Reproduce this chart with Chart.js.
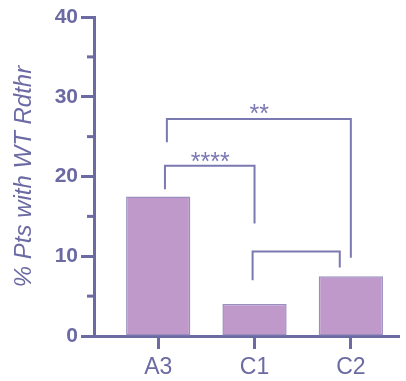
<!DOCTYPE html>
<html>
<head>
<meta charset="utf-8">
<script src="https://cdn.jsdelivr.net/npm/chart.js@4"></script>
<style>
  html, body { margin: 0; padding: 0; background: #fff; }
  #wrap { width: 406px; height: 381px; }
</style>
</head>
<body>
<div id="wrap"><canvas id="myChart" width="406" height="381"></canvas></div>
<script>
// data
const categories = ['A3', 'C1', 'C2'];
const pctValues = [17.5, 4.0, 7.5];
const yTicks = [0, 10, 20, 30, 40];
const yMinorTicks = [5, 15, 25, 35];

// significance brackets: [x1, x2, yTop, yLeftBottom, yRightBottom, label]
const brackets = [
    [0.07, 1.0, 21.35, 18.4, 14.1, '****'],
    [0.09, 2.0, 27.2, 24.3, 9.8, '**'],
    [0.98, 1.885, 10.6, 7.0, 8.6, '']
];
const starPos = [[0.54, 22.6], [1.05, 28.6]];

const axisColor = '#6b6aa3';
const lineColor = '#7b79b2';

function bracketPoints(b) {
    return [
        { x: b[0], y: b[3] },
        { x: b[0], y: b[2] },
        { x: b[1], y: b[2] },
        { x: b[1], y: b[4] }
    ];
}

const bracketSets = brackets.map(b => ({
    type: 'line',
    data: bracketPoints(b),
    borderColor: lineColor,
    borderWidth: 2,
    pointRadius: 0,
    fill: false,
    tension: 0
}));

// minor ticks on y + star labels
const extras = {
    id: 'extras',
    afterDraw(chart) {
        const c = chart.ctx;
        const ys = chart.scales.y;
        const xs = chart.scales.x;
        c.save();
        c.strokeStyle = axisColor;
        c.lineWidth = 3;
        yMinorTicks.forEach(v => {
            const py = ys.getPixelForValue(v);
            c.beginPath();
            c.moveTo(ys.right - 7, py);
            c.lineTo(ys.right, py);
            c.stroke();
        });
        c.fillStyle = lineColor;
        c.font = '25px "Liberation Sans", Arial, sans-serif';
        c.textAlign = 'center';
        c.textBaseline = 'alphabetic';
        brackets.forEach((b, i) => {
            if (!b[5]) return;
            c.fillText(b[5], xs.getPixelForValue(starPos[i][0]), ys.getPixelForValue(starPos[i][1]) + 14);
        });
        c.restore();
    }
};

const ctx = document.getElementById('myChart').getContext('2d');
const myChart = new Chart(ctx, {
    type: 'bar',
    data: {
        datasets: [{
            type: 'bar',
            data: pctValues.map((v, i) => ({ x: i, y: v })),
            backgroundColor: '#bf99c9',
            borderColor: '#9a8ec0',
            borderWidth: 1.5,
            borderSkipped: false,
            categoryPercentage: 1,
            barPercentage: 0.667
        }].concat(bracketSets)
    },
    options: {
        responsive: false,
        animation: false,
        layout: { padding: { top: 17, right: 7, left: 0, bottom: 0 } },
        plugins: { legend: { display: false }, tooltip: { enabled: false } },
        scales: {
            x: {
                type: 'linear',
                offset: false,
                min: -0.6667,
                max: 2.5,
                afterBuildTicks: s => { s.ticks = categories.map((c, i) => ({ value: i })); },
                afterFit: s => { s.height = 45; },
                ticks: {
                    callback: v => categories[v],
                    color: axisColor,
                    padding: 5,
                    font: { family: '"Liberation Sans", Arial, sans-serif', size: 23 }
                },
                grid: { offset: false, drawOnChartArea: false, tickLength: 13, tickWidth: 3, tickColor: axisColor },
                border: { color: axisColor, width: 3 }
            },
            y: {
                min: 0,
                max: 40,
                afterBuildTicks: s => { s.ticks = yTicks.map(v => ({ value: v })); },
                afterFit: s => { s.width = 94; },
                ticks: {
                    color: axisColor,
                    padding: 3,
                    font: { family: '"Liberation Sans", Arial, sans-serif', size: 21, weight: 'bold' }
                },
                grid: { drawOnChartArea: false, tickLength: 13, tickWidth: 3, tickColor: axisColor },
                border: { color: axisColor, width: 3 },
                title: {
                    display: true,
                    text: '% Pts with WT Rdthr',
                    color: axisColor,
                    padding: { top: 10, bottom: 0 },
                    font: { family: '"Liberation Sans", Arial, sans-serif', size: 24, style: 'italic' }
                }
            }
        }
    },
    plugins: [extras]
});
</script>
</body>
</html>
